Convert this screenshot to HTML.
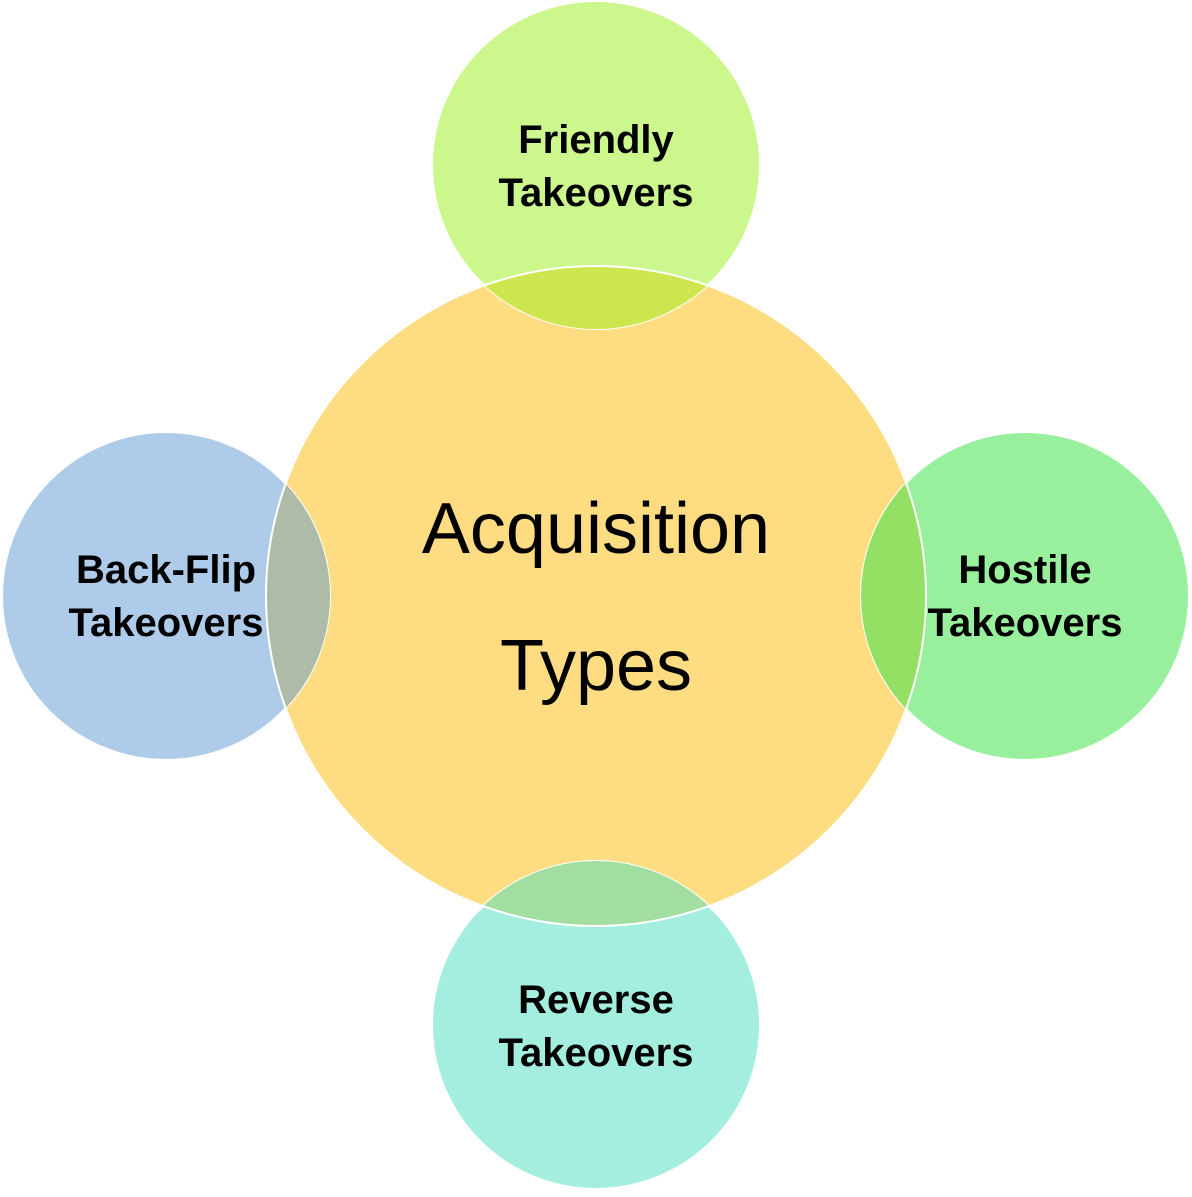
<!DOCTYPE html>
<html><head><style>html,body{margin:0;padding:0;background:#fff}</style></head>
<body>
<svg width="1192" height="1192" viewBox="0 0 1192 1192" xmlns="http://www.w3.org/2000/svg">
<defs>
<clipPath id="cc"><circle cx="596" cy="596" r="330"/></clipPath>
</defs>
<circle cx="596" cy="596" r="330" fill="#FDDC82"/>
<circle cx="596" cy="165" r="164" fill="#CBF78C" stroke="#fff" stroke-width="2"/>
<circle cx="596" cy="1025" r="164" fill="#A4EEDF" stroke="#fff" stroke-width="2"/>
<circle cx="166" cy="596" r="164" fill="#AECBEA" stroke="#fff" stroke-width="2"/>
<circle cx="1025" cy="596" r="164" fill="#98EF9C" stroke="#fff" stroke-width="2"/>
<g clip-path="url(#cc)">
<circle cx="596" cy="165" r="164" fill="#CDE650"/>
<circle cx="596" cy="1025" r="164" fill="#A2DE9F"/>
<circle cx="166" cy="596" r="164" fill="#AEBBA6"/>
<circle cx="1025" cy="596" r="164" fill="#93E065"/>
</g>
<circle cx="596" cy="596" r="330" fill="none" stroke="#fff" stroke-width="2"/>
<g font-family="Liberation Sans, sans-serif" text-anchor="middle" fill="#000">
<text x="596" y="553" font-size="72">Acquisition</text>
<text x="596" y="690" font-size="72">Types</text>
<g font-size="40" font-weight="bold">
<text x="596" y="153">Friendly</text>
<text x="596" y="206">Takeovers</text>
<text x="166" y="583">Back-Flip</text>
<text x="166" y="636">Takeovers</text>
<text x="1025" y="583">Hostile</text>
<text x="1025" y="636">Takeovers</text>
<text x="596" y="1013">Reverse</text>
<text x="596" y="1066">Takeovers</text>
</g>
</g>
</svg>
</body></html>
